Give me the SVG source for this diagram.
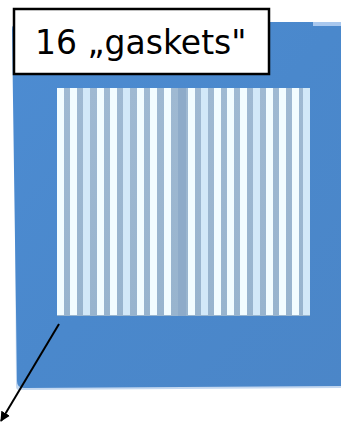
<svg xmlns="http://www.w3.org/2000/svg" width="341" height="426" viewBox="0 0 341 426">
  <defs>
    <linearGradient id="plate" x1="0" y1="0" x2="1" y2="1">
      <stop offset="0" stop-color="#4d8cd2"/>
      <stop offset="0.5" stop-color="#4a88cc"/>
      <stop offset="1" stop-color="#4b86c8"/>
    </linearGradient>
    <linearGradient id="field" x1="0" y1="0" x2="0" y2="1">
      <stop offset="0" stop-color="#9fb9d2"/>
      <stop offset="1" stop-color="#98b4ce"/>
    </linearGradient>
    <marker id="arrow" viewBox="0 0 10 10" refX="9" refY="5" markerWidth="10" markerHeight="10" markerUnits="userSpaceOnUse" orient="auto">
      <path d="M0,0 L10,5 L0,10 Z" fill="#000"/>
    </marker>
    <style>
      .w { fill: #f2fcff; }
      .lb { fill: #d2e8f8; }
      .label { font-family: "DejaVu Sans", "Liberation Sans", sans-serif; font-size: 33px; fill: #000; }
    </style>
  </defs>

  <g id="plate">
    <path d="M14,24 L341,24 L341,388 L19,390 Q16,390 16,386 Z" fill="#c4d8f0"/>
    <path d="M20,22 L341,22 L341,386 L24,388 Q17,388 17,381 L12,30 Q12,22 20,22 Z" fill="url(#plate)"/>
    <rect x="313" y="22" width="28" height="4" fill="#a9c8ee"/>
    <rect x="57" y="88" width="253" height="228" fill="url(#field)"/>
    <rect x="178" y="88" width="8" height="228" fill="#8eabc9"/>
    <g id="stripes">
      <rect class="w" x="57" y="88" width="7" height="227"/>
      <rect class="w" x="70" y="88" width="7" height="227"/>
      <rect class="lb" x="83" y="88" width="7" height="227"/>
      <rect class="w" x="97" y="88" width="7" height="227"/>
      <rect class="w" x="110" y="88" width="7" height="227"/>
      <rect class="lb" x="123" y="88" width="7" height="227"/>
      <rect class="w" x="137" y="88" width="7" height="227"/>
      <rect class="w" x="150" y="88" width="7" height="227"/>
      <rect class="w" x="164" y="88" width="7" height="227"/>
      <rect class="w" x="188" y="88" width="7" height="227"/>
      <rect class="lb" x="201" y="88" width="7" height="227"/>
      <rect class="w" x="214" y="88" width="7" height="227"/>
      <rect class="w" x="227" y="88" width="7" height="227"/>
      <rect class="w" x="240" y="88" width="7" height="227"/>
      <rect class="lb" x="253" y="88" width="7" height="227"/>
      <rect class="w" x="266" y="88" width="7" height="227"/>
      <rect class="w" x="279" y="88" width="7" height="227"/>
      <rect class="w" x="292" y="88" width="7" height="227"/>
      <rect class="lb" x="303" y="88" width="7" height="227"/>
    </g>
  </g>

  <g id="connectors">
    <line x1="59" y1="324" x2="1" y2="421" stroke="#000" stroke-width="2" marker-end="url(#arrow)"/>
  </g>

  <g id="label">
    <rect x="14" y="9" width="255" height="65" fill="#fff" stroke="#000" stroke-width="2.5"/>
    <text class="label" x="35" y="54">16 „gaskets"</text>
  </g>
</svg>
